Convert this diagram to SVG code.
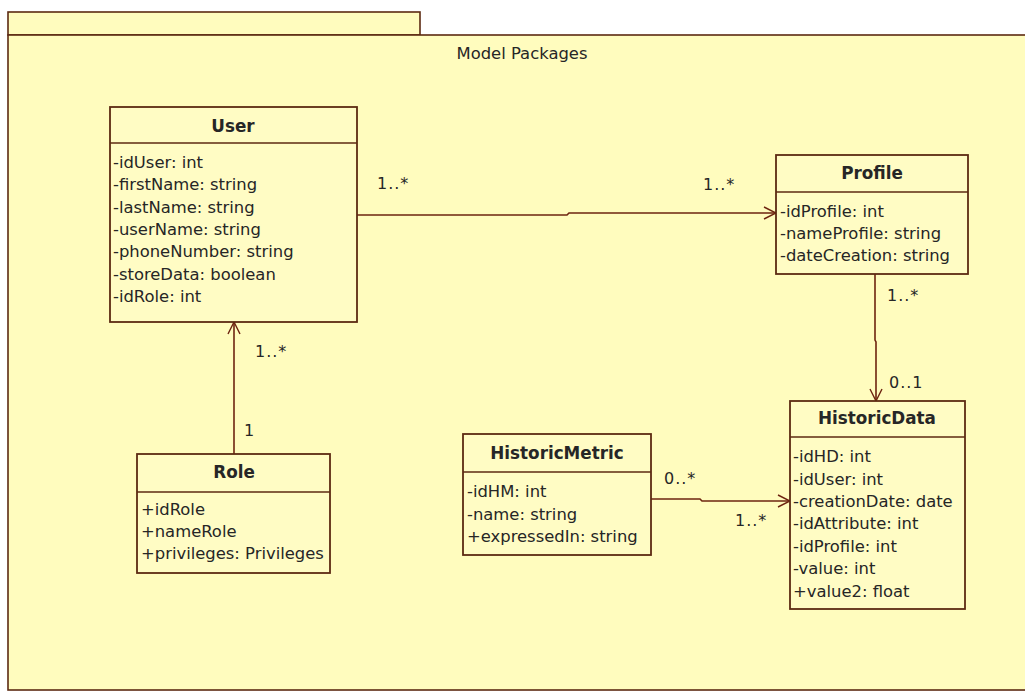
<svg xmlns="http://www.w3.org/2000/svg" width="1025" height="693" viewBox="0 0 1025 693">
<defs>
<style>
.pkg{fill:#FFFCBE;stroke:#5C2A12;stroke-width:1.6}
.box{fill:#FFFCC4;stroke:#5C2A12;stroke-width:1.8}
.div{stroke:#5C2A12;stroke-width:1.6}
.t{font-family:"DejaVu Sans",Verdana,sans-serif;font-size:16.4px;fill:#262626}
.b{font-family:"DejaVu Sans",Verdana,sans-serif;font-size:16.8px;font-weight:bold;fill:#262626;text-anchor:middle}
.m{font-family:"DejaVu Sans",Verdana,sans-serif;font-size:16px;fill:#262626;letter-spacing:1px}
.c{fill:none;stroke:#6E2410;stroke-width:1.6}
</style>
<marker id="open" viewBox="0 0 14 14" refX="13" refY="7" markerWidth="14" markerHeight="14" markerUnits="userSpaceOnUse" orient="auto">
<path d="M1,1 L13,7 L1,13" fill="none" stroke="#6E2410" stroke-width="1.4"/>
</marker>
</defs>
<rect width="1025" height="693" fill="#FFFFFF"/>
<g id="package">
<rect class="pkg" x="8" y="12" width="412" height="23"/>
<rect class="pkg" x="8" y="35" width="1030" height="655"/>
<text class="t" x="522" y="59" text-anchor="middle">Model Packages</text>
</g>
<g id="connectors">
<polyline class="c" points="357,215 567,215 569,213 776,213" marker-end="url(#open)"/>
<line class="c" x1="234" y1="454" x2="234" y2="322" marker-end="url(#open)"/>
<polyline class="c" points="875,274 875,340 876,342 876,401" marker-end="url(#open)"/>
<polyline class="c" points="651,499 700,499 702,501 790,501" marker-end="url(#open)"/>
<text class="m" x="377" y="189">1..*</text>
<text class="m" x="703" y="190">1..*</text>
<text class="m" x="255" y="357">1..*</text>
<text class="m" x="244" y="436">1</text>
<text class="m" x="887" y="301">1..*</text>
<text class="m" x="889" y="388">0..1</text>
<text class="m" x="664" y="484">0..*</text>
<text class="m" x="735" y="526">1..*</text>
</g>
<g id="User">
<rect class="box" x="110" y="107" width="247" height="215"/>
<line class="div" x1="110" y1="143" x2="357" y2="143"/>
<text class="b" x="233" y="132">User</text>
<text class="t" x="113" y="168">-idUser: int</text>
<text class="t" x="113" y="190">-firstName: string</text>
<text class="t" x="113" y="213">-lastName: string</text>
<text class="t" x="113" y="235">-userName: string</text>
<text class="t" x="113" y="257">-phoneNumber: string</text>
<text class="t" x="113" y="280">-storeData: boolean</text>
<text class="t" x="113" y="302">-idRole: int</text>
</g>
<g id="Profile">
<rect class="box" x="776" y="155" width="192" height="119"/>
<line class="div" x1="776" y1="192" x2="968" y2="192"/>
<text class="b" x="872" y="179">Profile</text>
<text class="t" x="780" y="217">-idProfile: int</text>
<text class="t" x="780" y="239">-nameProfile: string</text>
<text class="t" x="780" y="261">-dateCreation: string</text>
</g>
<g id="Role">
<rect class="box" x="137" y="454" width="193" height="119"/>
<line class="div" x1="137" y1="492" x2="330" y2="492"/>
<text class="b" x="234" y="478">Role</text>
<text class="t" x="141" y="515">+idRole</text>
<text class="t" x="141" y="537">+nameRole</text>
<text class="t" x="141" y="559">+privileges: Privileges</text>
</g>
<g id="HistoricMetric">
<rect class="box" x="463" y="434" width="188" height="121"/>
<line class="div" x1="463" y1="472" x2="651" y2="472"/>
<text class="b" x="557" y="459">HistoricMetric</text>
<text class="t" x="467" y="497">-idHM: int</text>
<text class="t" x="467" y="520">-name: string</text>
<text class="t" x="467" y="542">+expressedIn: string</text>
</g>
<g id="HistoricData">
<rect class="box" x="790" y="401" width="175" height="208"/>
<line class="div" x1="790" y1="437" x2="965" y2="437"/>
<text class="b" x="877" y="424">HistoricData</text>
<text class="t" x="793" y="462">-idHD: int</text>
<text class="t" x="793" y="485">-idUser: int</text>
<text class="t" x="793" y="507">-creationDate: date</text>
<text class="t" x="793" y="529">-idAttribute: int</text>
<text class="t" x="793" y="552">-idProfile: int</text>
<text class="t" x="793" y="574">-value: int</text>
<text class="t" x="793" y="597">+value2: float</text>
</g>
</svg>
